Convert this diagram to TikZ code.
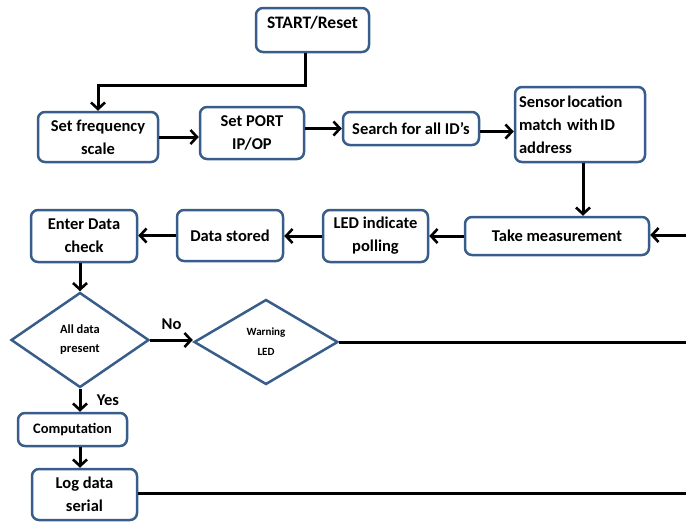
\documentclass[tikz,border=0pt]{standalone}
\usepackage{fontspec}
\setmainfont{Carlito}
\usetikzlibrary{shapes.geometric,arrows.meta}
\definecolor{bord}{RGB}{56,93,138}
\begin{document}
\begin{tikzpicture}[x=1pt,y=-1pt,
  box/.style={draw=bord, line width=2.5pt, rounded corners=7pt, fill=white,
    align=center, inner sep=2pt, font=\fontsize{16.5}{23}\selectfont\bfseries},
  dia/.style={draw=bord, line width=2.5pt, diamond, fill=white, inner sep=0pt,
    align=center, font=\fontsize{12.5}{19}\selectfont\bfseries},
  arr/.style={line width=3pt, -{Straight Barb[length=6.5pt,width=14pt,line width=2.6pt]}},
  ln/.style={line width=3pt},
  lbl/.style={font=\fontsize{16.5}{20}\selectfont\bfseries}
]
\useasboundingbox (0,0) rectangle (686,523);

% top row
\node[box, minimum width=113pt, minimum height=44pt] (start) at (312.5,30) {};
\node[lbl, font=\fontsize{17.5}{20}\selectfont\bfseries] (starttxt) at (312.5,23) {START/Reset};
\node[box, minimum width=120pt, minimum height=50pt] (sf) at (98,137) {Set frequency\\scale};
\node[box, minimum width=104pt, minimum height=52pt] (port) at (252,133) {Set PORT\\IP/OP};
\node[box, minimum width=136pt, minimum height=33pt] (search) at (411,128.5) {Search for all ID’s};
\node[box, minimum height=75pt, text width=122pt, inner xsep=4pt, align=left] (sensor) at (580,124.5) {Sensor\hspace{2pt}location\\match with\hspace{2pt}ID\\address};

% second row
\node[box, minimum width=184pt, minimum height=38pt] (take) at (557,236) {Take measurement};
\node[box, minimum width=105pt, minimum height=52pt] (led) at (375.5,236) {LED indicate\\polling};
\node[box, minimum width=106pt, minimum height=51pt] (ds) at (230,235.5) {Data stored};
\node[box, minimum width=106pt, minimum height=52pt] (edc) at (84,236) {Enter Data\\check};

% diamonds
\node[dia, minimum width=138pt, minimum height=95pt] (d1) at (80,340) {All data\\present};
\node[dia, minimum width=144pt, minimum height=85pt, font=\fontsize{11}{20}\selectfont\bfseries] (warn) at (266,342) {Warning\\LED};

% bottom
\node[box, minimum width=109pt, minimum height=33pt, font=\fontsize{14.5}{18}\selectfont\bfseries] (comp) at (72.5,429.5) {Computation};
\node[box, minimum width=105pt, minimum height=51pt] (log) at (84.5,494.5) {Log data\\serial};

% edge coordinates
\coordinate (r1) at (686,235);
\coordinate (r2) at (686,342);
\coordinate (r3) at (686,493);

% connectors
\draw[arr] ([xshift=-7.5pt]start.south) |- ([yshift=25pt]sf.north) -- (sf.north);
\draw[arr] (sf.east) -- (port.west |- sf.east);
\draw[arr] (port.east |- search.west) -- (search.west);
\draw[arr] ([yshift=-3pt]search.east) -- ([yshift=-3pt]sensor.west |- search.east);
\draw[arr] ([xshift=3pt]sensor.south) -- ([xshift=3pt]sensor.south |- take.north);
\draw[arr] (r1) -- (take.east |- r1);
\draw[arr] (take.west) -- (led.east |- take.west);
\draw[arr] (led.west) -- (ds.east |- led.west);
\draw[arr] (ds.west) -- (edc.east |- ds.west);
\draw[arr] (edc.south -| d1.north) -- (d1.north);
\draw[arr] (d1.east) -- (warn.west |- d1.east) node[lbl, midway, above=6pt] (no) {No};
\draw[ln] (warn.east) -- (r2);
\draw[arr] (d1.south) -- (d1.south |- comp.north) node[lbl, midway, right=12pt] (yes) {Yes};
\draw[arr] (comp.south -| d1.south) -- (log.north -| d1.south);
\draw[ln] (log.east |- r3) -- (r3);
\end{tikzpicture}
\end{document}
